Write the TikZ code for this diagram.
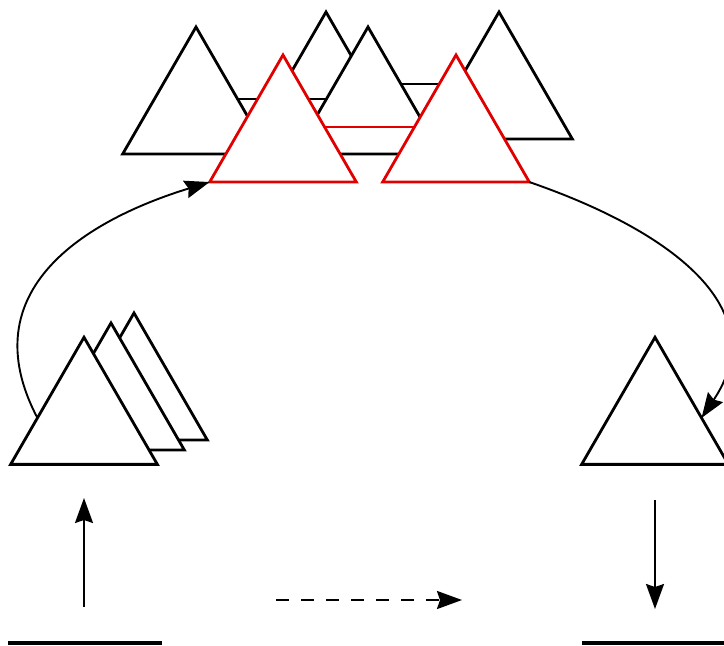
\documentclass[tikz,border=0pt]{standalone}
\usetikzlibrary{shapes.geometric,arrows.meta}
\definecolor{tred}{RGB}{225,0,0}
\begin{document}
\begin{tikzpicture}[x=1pt,y=-1pt,
  tri/.style={regular polygon, regular polygon sides=3, minimum size=169.4pt,
    inner sep=0pt, outer sep=0pt, draw, line width=2.8pt, fill=white, line join=miter},
  redtri/.style={tri, draw=tred},
  link/.style={line width=2.8pt},
  arr/.style={line width=1.9pt, -{Stealth[length=25pt,width=18pt,inset=3pt]}},
  ground/.style={line width=4pt}]
\useasboundingbox (0,0) rectangle (724,646);
\clip (0,0) rectangle (724,646);

% back layer
\node[tri] (B) at (326,96.7) {};
\node[tri] (D) at (499,96.7) {};
\draw[link] ([shift={(41.6,-12.7)}]B.center) -- ([shift={(-41.6,-12.7)}]D.center);

% middle layer
\node[tri] (A) at (196,111.7) {};
\node[tri] (C) at (368,111.7) {};
\draw[link] ([shift={(41.6,-12.7)}]A.center) -- ([shift={(-41.6,-12.7)}]C.center);

% front layer (red)
\node[redtri] (R1) at (283,139.7) {};
\node[redtri] (R2) at (456,139.7) {};
\draw[link, tred] ([shift={(41.6,-12.7)}]R1.center) -- ([shift={(-41.6,-12.7)}]R2.center);

% left stack
\node[tri] (L3) at (134,397.7) {};
\node[tri] (L2) at (111,407.7) {};
\node[tri] (L1) at (84,422) {};

% right triangle
\node[tri] (T) at (655,422) {};

% curved connectors
\draw[arr] (L1.175) .. controls (-30,290) and (86,220) .. (R1.corner 2);
\draw[arr] (R2.corner 3) .. controls (674,232) and (774,310) .. (T.5);

% bottom
\coordinate (gl1) at (8,643);
\coordinate (gl2) at (162,643);
\coordinate (gr1) at (582,643);
\coordinate (gr2) at (728,643);
\draw[ground] (gl1) -- (gl2);
\draw[ground] (gr1) -- (gr2);

\coordinate (ua) at (84,607);
\coordinate (ub) at (84,498);
\draw[arr] (ua) -- (ub);

\coordinate (da) at (655,500);
\coordinate (db) at (655,609);
\draw[arr] (da) -- (db);

\coordinate (ma) at (276,600);
\coordinate (mb) at (462,600);
\draw[arr, line width=2.2pt, dash pattern=on 12.5pt off 12.5pt] (ma) -- (mb);
\end{tikzpicture}
\end{document}
